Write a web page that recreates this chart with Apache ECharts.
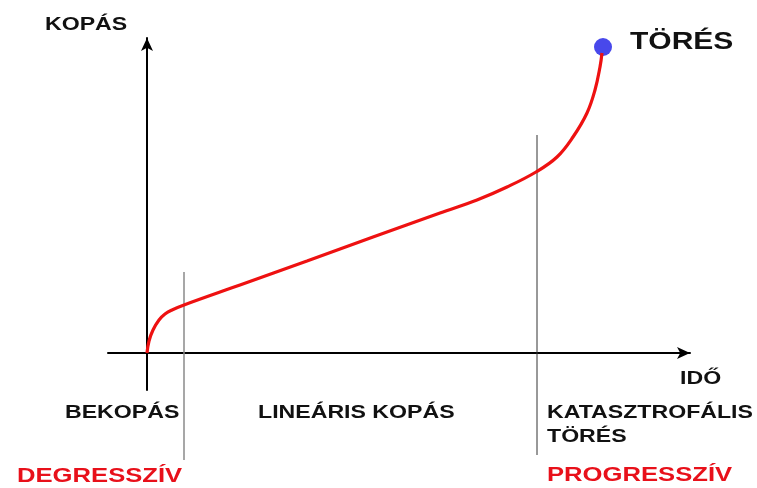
<!DOCTYPE html>
<html>
<head>
<meta charset="utf-8">
<script src="https://cdn.jsdelivr.net/npm/echarts@6/dist/echarts.min.js"></script>
<style>
	html, body { margin: 0; padding: 0; background: #fff; }
	#chart { width: 757px; height: 488px; }
</style>
</head>
<body>
<div id="chart"></div>
<script>
// wear curve (time, wear) in chart units
const wearTime = [0, 2, 6, 12, 18, 25, 37, 93, 160, 226, 293, 330, 360, 389, 410, 426, 440, 448, 453, 455];
const wearAmount = [0, 12, 23, 33, 39, 43, 48, 68, 92, 116, 140, 153, 166, 181, 196, 216, 240, 263, 286, 300];
const breakPoint = [456, 306];

// phase boundaries: x position, top and bottom of the marker line
const phaseX = [37, 390];
const phaseTop = [81, 218];
const phaseBottom = [-107, -102];

const FONT = '"Liberation Sans", Arial, sans-serif';
const STRETCH = 1.25;

function label(text, x, y, size, color) {
	return {
		type: 'text',
		x: x,
		y: y,
		scaleX: STRETCH,
		style: {
			text: text,
			x: 0,
			y: 0,
			fill: color || '#111',
			font: 'bold ' + size + 'px ' + FONT,
			textAlign: 'left',
			textVerticalAlign: 'middle'
		}
	};
}

const chart = echarts.init(document.getElementById('chart'));

const axisLine = {
	onZero: true,
	symbol: ['none', 'arrow'],
	symbolSize: [9, 13],
	lineStyle: { color: '#000', width: 2 }
};

chart.setOption({
	animation: false,
	grid: { left: 108, right: 67, top: 38, bottom: 98 },
	xAxis: {
		type: 'value', min: -39, max: 543,
		axisLine: axisLine,
		axisTick: { show: false }, axisLabel: { show: false }, splitLine: { show: false }
	},
	yAxis: {
		type: 'value', min: -37, max: 315,
		axisLine: axisLine,
		axisTick: { show: false }, axisLabel: { show: false }, splitLine: { show: false }
	},
	series: [
		{
			type: 'line',
			clip: false,
			silent: true,
			symbol: 'none',
			lineStyle: { color: '#8a8a8a', width: 1.5 },
			data: [[phaseX[0], phaseBottom[0]], [phaseX[0], phaseTop[0]]]
		},
		{
			type: 'line',
			clip: false,
			silent: true,
			symbol: 'none',
			lineStyle: { color: '#333', width: 1 },
			data: [[phaseX[1], phaseBottom[1]], [phaseX[1], phaseTop[1]]]
		},
		{
			type: 'line',
			smooth: 0.4,
			symbol: 'none',
			clip: false,
			lineStyle: { color: '#ee1111', width: 3.2 },
			data: wearTime.map((t, i) => [t, wearAmount[i]])
		},
		{
			type: 'scatter',
			symbolSize: 18,
			itemStyle: { color: '#1a1ae6' },
			data: [breakPoint]
		}
	],
	graphic: [
		label('KOPÁS', 45, 25, 18.5),
		label('TÖRÉS', 630, 42, 24),
		label('IDŐ', 680, 379, 18.5),
		label('BEKOPÁS', 65, 413, 18.5),
		label('LINEÁRIS KOPÁS', 258, 413, 18.5),
		label('KATASZTROFÁLIS', 547, 413, 18.5),
		label('TÖRÉS', 547, 437, 18.5),
		label('DEGRESSZÍV', 17, 476, 20.5, '#e8101a'),
		label('PROGRESSZÍV', 547, 475, 20.5, '#e8101a')
	]
});
</script>
</body>
</html>
